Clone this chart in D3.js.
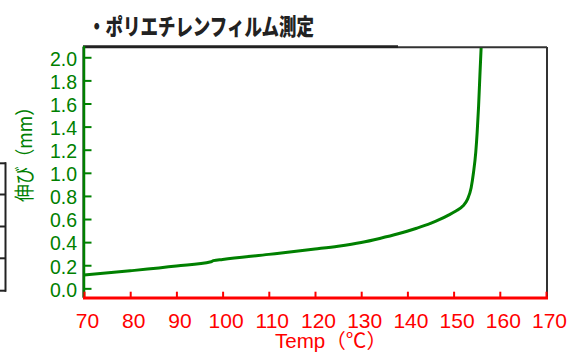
<!DOCTYPE html>
<html>
<head>
<meta charset="utf-8">
<script src="https://cdn.jsdelivr.net/npm/d3@7"></script>
<style>
  html, body { margin: 0; padding: 0; background: #fff; }
  svg { display: block; }
</style>
</head>
<body>
<svg id="chart" width="588" height="354"></svg>
<script>
// ---- data ----
const temperature = [70, 80, 90, 97.5, 98, 100, 110, 120, 125, 130, 134, 138, 142, 145, 147, 149, 150.5, 152, 153, 153.8, 154.3, 154.8, 155.1, 155.4, 155.7, 156.0];
const elongation  = [0.115, 0.152, 0.193, 0.230, 0.240, 0.250, 0.294, 0.340, 0.365, 0.397, 0.432, 0.472, 0.520, 0.562, 0.596, 0.636, 0.670, 0.712, 0.770, 0.870, 1.000, 1.180, 1.350, 1.570, 1.850, 2.120];
const xTickValues = [70, 80, 90, 100, 110, 120, 130, 140, 150, 160, 170];
const yTickValues = [0.0, 0.2, 0.4, 0.6, 0.8, 1.0, 1.2, 1.4, 1.6, 1.8, 2.0];
const titleText = "・ポリエチレンフィルム測定";
const xLabelText = "Temp（℃）";
const yLabelText = "伸び（mm）";

(function () {
const svg = d3.select("#chart");
const pLeft = 84, pRight = 546, pTop = 47, pBottom = 297.7;

const x = d3.scaleLinear().domain([70, 170]).range([pLeft, pRight]);
const y = d3.scaleLinear().domain([-0.081, 2.089]).range([pBottom, pTop]);

const GREEN = "#008000", RED = "#ff0000", DARK = "#222";

// decorative table fragment at the far left
const tableRows = [163.3, 194.5, 226.5, 258.3, 290.7];
svg.append("line").attr("x1", 5.5).attr("x2", 5.5).attr("y1", tableRows[0] - 1).attr("y2", tableRows[tableRows.length - 1] + 1)
  .attr("stroke", DARK).attr("stroke-width", 2);
tableRows.forEach(r => svg.append("line").attr("x1", 0).attr("x2", 6).attr("y1", r).attr("y2", r)
  .attr("stroke", DARK).attr("stroke-width", 2));

// title
svg.append("text").attr("x", 88).attr("y", 35)
  .attr("font-family", "'Noto Sans CJK JP', sans-serif").attr("font-weight", 900)
  .attr("font-size", 23).attr("fill", DARK)
  .attr("textLength", 226).attr("lengthAdjust", "spacingAndGlyphs")
  .text(titleText);

// frame: top (thick then thin) and right
svg.append("line").attr("x1", pLeft - 1).attr("x2", 398).attr("y1", 46.7).attr("y2", 46.7)
  .attr("stroke", DARK).attr("stroke-width", 3);
svg.append("line").attr("x1", 398).attr("x2", pRight + 1).attr("y1", 47.3).attr("y2", 47.3)
  .attr("stroke", "#333").attr("stroke-width", 2);
svg.append("line").attr("x1", pRight + 1).attr("x2", pRight + 1).attr("y1", 47).attr("y2", pBottom)
  .attr("stroke", "#333").attr("stroke-width", 2);

// clip for curve
svg.append("clipPath").attr("id", "plotclip").append("rect")
  .attr("x", pLeft).attr("y", pTop + 1).attr("width", pRight - pLeft).attr("height", pBottom - pTop);

// curve
const pts = temperature.map((t, i) => [t, elongation[i]]);
const line = d3.line().x(d => x(d[0])).y(d => y(d[1])).curve(d3.curveMonotoneX);
svg.append("path").datum(pts).attr("d", line)
  .attr("fill", "none").attr("stroke", GREEN).attr("stroke-width", 3)
  .attr("stroke-linejoin", "round").attr("clip-path", "url(#plotclip)");

// y axis
const yAxis = d3.axisLeft(y).tickValues(yTickValues).tickFormat(d3.format(".1f"))
  .tickSizeInner(-7).tickSizeOuter(0).tickPadding(7.5);
const gy = svg.append("g").attr("transform", `translate(${pLeft + 0.5},0)`).call(yAxis);
gy.select(".domain").remove();
gy.selectAll(".tick line").attr("stroke", GREEN).attr("stroke-width", 2);
gy.selectAll(".tick text").attr("fill", GREEN)
  .attr("font-family", "'Liberation Sans', Arial, sans-serif").attr("font-size", 19.5).attr("dy", "0.4em");
svg.append("line").attr("x1", pLeft - 1.5).attr("x2", pLeft - 1.5).attr("y1", pTop).attr("y2", pBottom)
  .attr("stroke", "#888").attr("stroke-width", 1);
svg.append("line").attr("x1", pLeft).attr("x2", pLeft).attr("y1", pTop - 1).attr("y2", pBottom)
  .attr("stroke", GREEN).attr("stroke-width", 2.5);

// x axis
const xAxis = d3.axisBottom(x).tickValues(xTickValues).tickFormat(d3.format("d"))
  .tickSizeInner(-6).tickSizeOuter(0).tickPadding(15);
const gx = svg.append("g").attr("transform", `translate(0,${pBottom})`).call(xAxis);
gx.select(".domain").remove();
gx.selectAll(".tick line").attr("stroke", RED).attr("stroke-width", 2);
gx.selectAll(".tick text").attr("fill", RED)
  .attr("font-family", "'Liberation Sans', Arial, sans-serif").attr("font-size", 21).attr("dx", 3);
svg.append("line").attr("x1", pLeft - 1).attr("x2", pRight + 2).attr("y1", pBottom + 0.3).attr("y2", pBottom + 0.3)
  .attr("stroke", RED).attr("stroke-width", 3);

// axis titles
svg.append("text").attr("x", 275).attr("y", 348)
  .attr("font-family", "'Liberation Sans', Arial, 'Noto Sans CJK JP', sans-serif").attr("font-size", 20)
  .attr("fill", RED).attr("textLength", 112).attr("lengthAdjust", "spacingAndGlyphs")
  .text(xLabelText);

svg.append("text").attr("transform", "translate(23,202) rotate(-90)")
  .attr("x", 0).attr("y", 0).attr("dominant-baseline", "central")
  .attr("font-family", "'Noto Sans CJK JP', sans-serif").attr("font-size", 20)
  .attr("fill", GREEN).attr("textLength", 104).attr("lengthAdjust", "spacingAndGlyphs")
  .text(yLabelText);
})();
</script>
</body>
</html>
